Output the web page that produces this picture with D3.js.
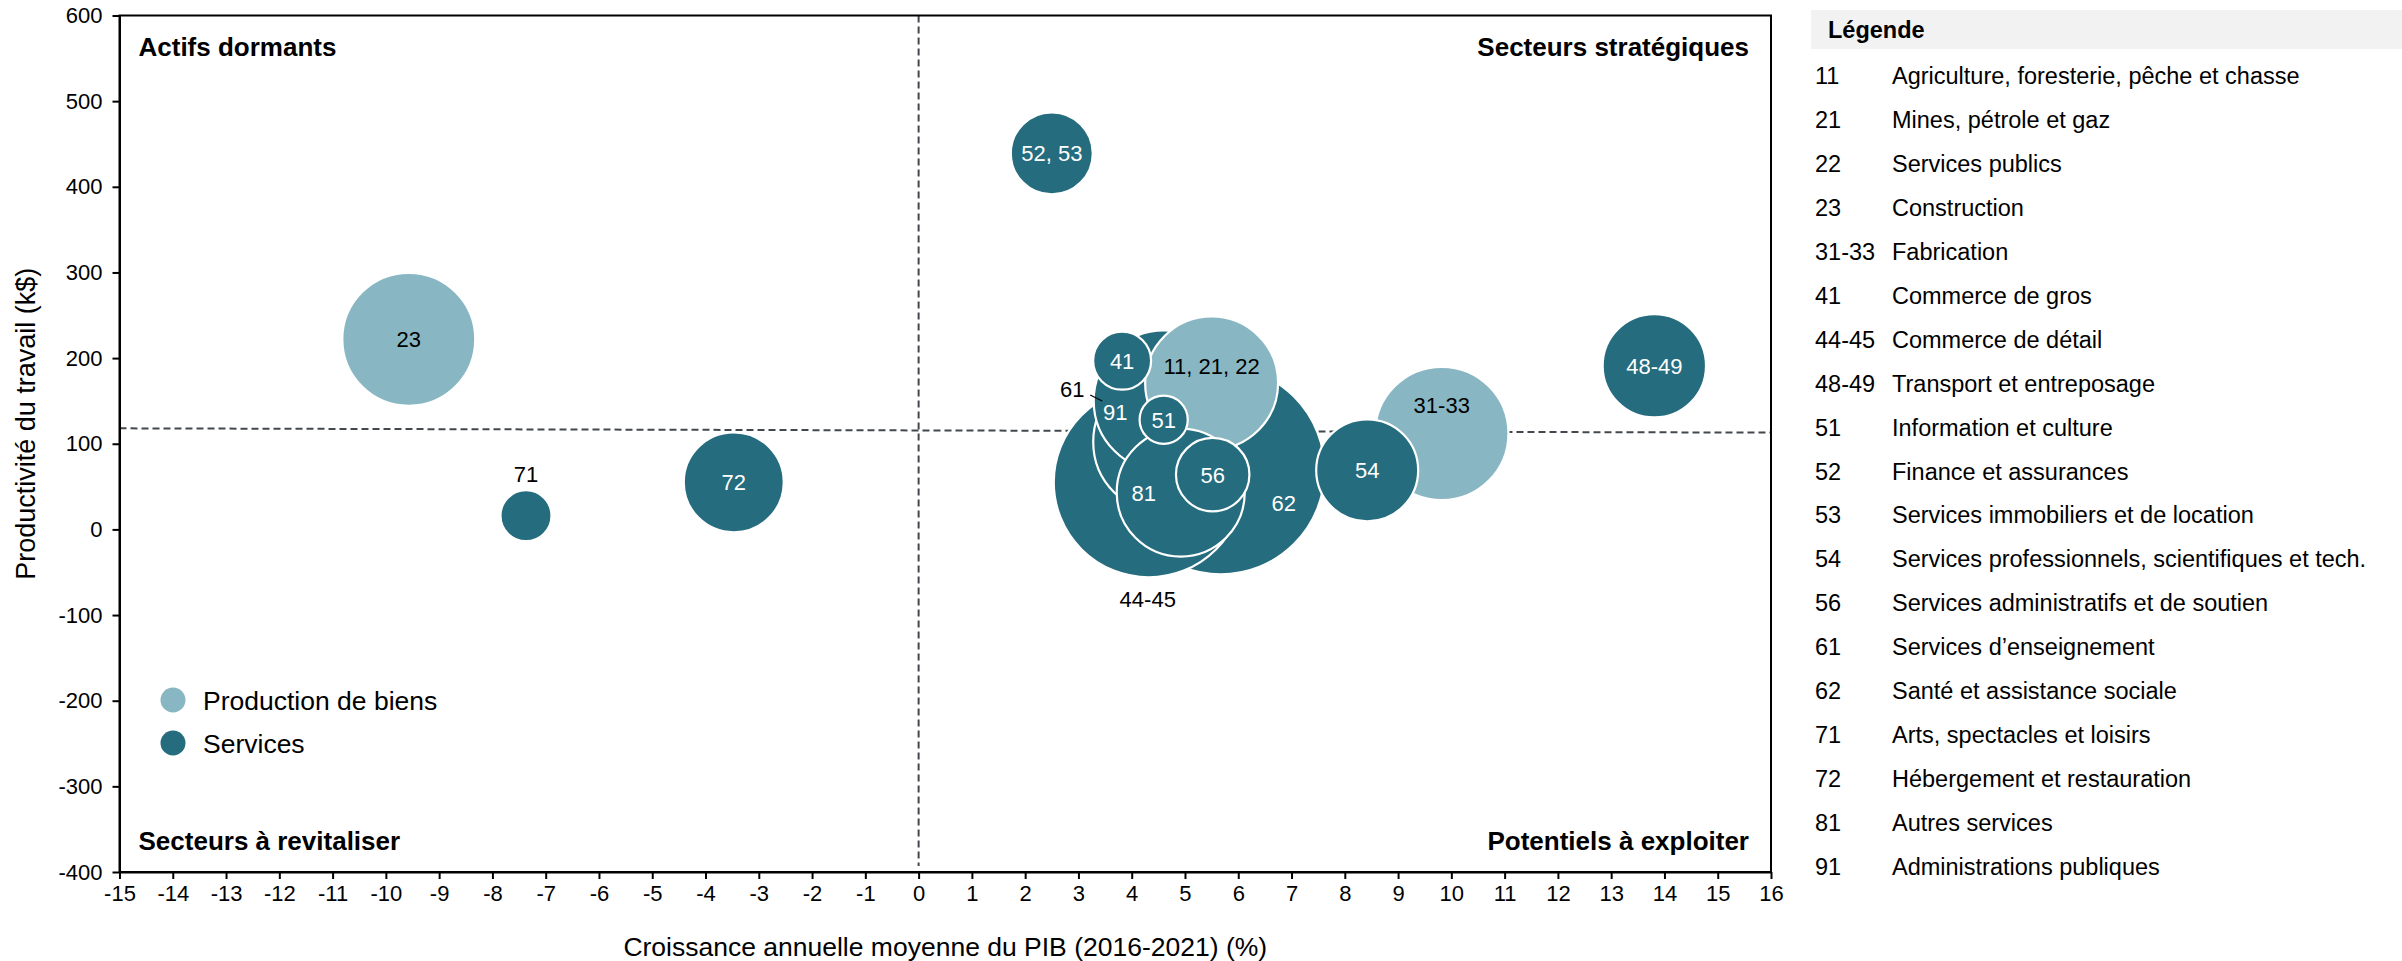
<!DOCTYPE html>
<html lang="fr">
<head>
<meta charset="utf-8">
<script src="https://cdn.jsdelivr.net/npm/d3@7"></script>
<style>
  html, body { margin: 0; padding: 0; background: #ffffff; }
  svg { display: block; font-family: "Liberation Sans", Arial, sans-serif; }
</style>
</head>
<body>
<svg id="chart" width="2402" height="961"></svg>
<script>
// ---------- DATA ----------
const codes = ["11, 21, 22", "23", "31-33", "41", "44-45", "48-49", "51", "52, 53", "54", "56", "61", "62", "71", "72", "81", "91"];
const groupes = ["Production de biens", "Production de biens", "Production de biens", "Services", "Services", "Services", "Services", "Services", "Services", "Services", "Services", "Services", "Services", "Services", "Services", "Services"];
const croissancePIB = [5.50, -9.57, 9.82, 3.82, 4.32, 13.81, 4.60, 2.50, 8.42, 5.52, 4.61, 5.67, -7.37, -3.47, 4.92, 4.61];
const productivite = [171, 222, 112, 197, 55, 191, 128, 439, 69, 64, 102, 69, 16, 55, 43, 150];
const tailleBulle = [44.2, 44.2, 44.5, 8.4, 90.3, 26.7, 5.8, 16.8, 26.0, 13.5, 50.4, 108.2, 6.5, 25.0, 41.0, 49.7];

const moyenneProductivite = [[-15, 118], [16, 113]];

const xTicks = d3.range(-15, 17, 1);
const yTicks = d3.range(-400, 601, 100);

const quadrants = ["Actifs dormants", "Secteurs stratégiques", "Secteurs à revitaliser", "Potentiels à exploiter"];
const groupesLegende = ["Production de biens", "Services"];

const legendeCodes = ["11", "21", "22", "23", "31-33", "41", "44-45", "48-49", "51", "52", "53", "54", "56", "61", "62", "71", "72", "81", "91"];
const legendeNoms = [
  "Agriculture, foresterie, pêche et chasse",
  "Mines, pétrole et gaz",
  "Services publics",
  "Construction",
  "Fabrication",
  "Commerce de gros",
  "Commerce de détail",
  "Transport et entreposage",
  "Information et culture",
  "Finance et assurances",
  "Services immobiliers et de location",
  "Services professionnels, scientifiques et tech.",
  "Services administratifs et de soutien",
  "Services d’enseignement",
  "Santé et assistance sociale",
  "Arts, spectacles et loisirs",
  "Hébergement et restauration",
  "Autres services",
  "Administrations publiques"
];

// ---------- LAYOUT ----------
const svg = d3.select("#chart");
const plot = { left: 119.5, right: 1771, top: 15.5, bottom: 872 };
const FONT = "'Liberation Sans', Arial, sans-serif";
const colors = { "Production de biens": "#88b7c3", "Services": "#256c7e" };

const x = d3.scaleLinear().domain([-15, 16]).range([plot.left, plot.right]);
const y = d3.scaleLinear().domain([-400, 600]).range([plot.bottom, plot.top]);
const r = d3.scaleSqrt().domain([0, d3.max(tailleBulle)]).range([0, 104]);

const data = codes.map((c, i) => ({
  code: c, groupe: groupes[i], x: croissancePIB[i], y: productivite[i], s: tailleBulle[i]
}));

// label placement tweaks (pixels)
const labelOffset = {
  "11, 21, 22": [0, -17], "31-33": [0, -28], "62": [63, 33], "81": [-37, 1],
  "91": [-49, 11], "44-45": [-1, 117], "61": [-92, -53], "71": [0, -42]
};
const outsideLabels = new Set(["44-45", "61", "71"]);

// dashed reference lines
const g = svg.append("g");
g.append("line")
  .attr("x1", x(0)).attr("x2", x(0))
  .attr("y1", y(600)).attr("y2", y(-400) - 6)
  .attr("stroke", "#43484e").attr("stroke-width", 2).attr("stroke-dasharray", "7,4");
g.append("path")
  .datum(moyenneProductivite)
  .attr("d", d3.line().x(d => x(d[0])).y(d => y(d[1])))
  .attr("fill", "none")
  .attr("stroke", "#43484e").attr("stroke-width", 2).attr("stroke-dasharray", "7,4");

// bubbles (largest first)
const sorted = data.slice().sort((a, b) => b.s - a.s);
g.selectAll("circle.bubble")
  .data(sorted)
  .join("circle")
  .attr("class", "bubble")
  .attr("cx", d => x(d.x))
  .attr("cy", d => y(d.y))
  .attr("r", d => r(d.s))
  .attr("fill", d => colors[d.groupe])
  .attr("stroke", "#ffffff")
  .attr("stroke-width", 2.2);

// labels
g.selectAll("text.lbl")
  .data(data)
  .join("text")
  .attr("class", "lbl")
  .attr("x", d => x(d.x) + (labelOffset[d.code] ? labelOffset[d.code][0] : 0))
  .attr("y", d => y(d.y) + (labelOffset[d.code] ? labelOffset[d.code][1] : 0))
  .attr("dy", "0.36em")
  .attr("text-anchor", "middle")
  .attr("font-size", 22)
  .attr("fill", d => (outsideLabels.has(d.code) || d.groupe === "Production de biens") ? "#000000" : "#ffffff")
  .text(d => d.code);

// leader line for 61
const d61 = data.find(d => d.code === "61");
g.append("line")
  .attr("x1", x(d61.x) - 74).attr("y1", y(d61.y) - 47)
  .attr("x2", x(d61.x) - 62).attr("y2", y(d61.y) - 41)
  .attr("stroke", "#000").attr("stroke-width", 1.3);

// frame
svg.append("rect")
  .attr("x", plot.left).attr("y", plot.top)
  .attr("width", plot.right - plot.left).attr("height", plot.bottom - plot.top)
  .attr("fill", "none").attr("stroke", "#000").attr("stroke-width", 2);

// axes
const xAxis = svg.append("g")
  .attr("transform", `translate(0,${plot.bottom})`)
  .call(d3.axisBottom(x).tickValues(xTicks).tickFormat(d3.format("d")).tickSize(7).tickSizeOuter(0));
const yAxis = svg.append("g")
  .attr("transform", `translate(${plot.left},0)`)
  .call(d3.axisLeft(y).tickValues(yTicks).tickFormat(d3.format("d")).tickSize(7).tickSizeOuter(0));
[xAxis, yAxis].forEach(a => {
  a.select(".domain").attr("stroke", "#000").attr("stroke-width", 2);
  a.selectAll(".tick line").attr("stroke", "#000").attr("stroke-width", 2);
  a.selectAll(".tick text").attr("font-family", FONT).attr("font-size", 22).attr("fill", "#000");
});
xAxis.selectAll(".tick text").attr("dy", "0.85em");
yAxis.selectAll(".tick text").attr("x", -17);
xAxis.selectAll(".tick text").text(d => d3.format("d")(d).replace("−", "-"));
yAxis.selectAll(".tick text").text(d => d3.format("d")(d).replace("−", "-"));

// axis titles
svg.append("text")
  .attr("x", (plot.left + plot.right) / 2).attr("y", 956)
  .attr("text-anchor", "middle").attr("font-size", 26.5)
  .text("Croissance annuelle moyenne du PIB (2016-2021) (%)");
svg.append("text")
  .attr("transform", `translate(35,${(plot.top + plot.bottom) / 2 - 20}) rotate(-90)`)
  .attr("text-anchor", "middle").attr("font-size", 27)
  .text("Productivité du travail (k$)");

// quadrant titles
const qpos = [
  { x: plot.left + 19, y: 47, a: "start" },
  { x: plot.right - 22, y: 47, a: "end" },
  { x: plot.left + 19, y: 841, a: "start" },
  { x: plot.right - 22, y: 841, a: "end" }
];
svg.selectAll("text.quad")
  .data(quadrants)
  .join("text")
  .attr("class", "quad")
  .attr("x", (d, i) => qpos[i].x).attr("y", (d, i) => qpos[i].y)
  .attr("dy", "0.36em")
  .attr("text-anchor", (d, i) => qpos[i].a)
  .attr("font-size", 26).attr("font-weight", "bold")
  .text(d => d);

// in-plot legend
const lg = svg.append("g").attr("transform", "translate(173,700)");
lg.selectAll("circle")
  .data(groupesLegende)
  .join("circle")
  .attr("cx", 0).attr("cy", (d, i) => i * 43)
  .attr("r", 12.5)
  .attr("fill", d => colors[d]);
lg.selectAll("text")
  .data(groupesLegende)
  .join("text")
  .attr("x", 30).attr("y", (d, i) => i * 43)
  .attr("dy", "0.36em")
  .attr("font-size", 26.5)
  .text(d => d);

// side legend
const side = svg.append("g");
side.append("rect")
  .attr("x", 1811).attr("y", 10).attr("width", 591).attr("height", 39)
  .attr("fill", "#f2f2f2");
side.append("text")
  .attr("x", 1828).attr("y", 30).attr("dy", "0.36em")
  .attr("font-size", 23.5).attr("font-weight", "bold")
  .text("Légende");
side.selectAll("text.code")
  .data(legendeCodes)
  .join("text")
  .attr("class", "code")
  .attr("x", 1815).attr("y", (d, i) => 76 + i * 43.9)
  .attr("dy", "0.36em").attr("font-size", 23.5)
  .text(d => d);
side.selectAll("text.nom")
  .data(legendeNoms)
  .join("text")
  .attr("class", "nom")
  .attr("x", 1892).attr("y", (d, i) => 76 + i * 43.9)
  .attr("dy", "0.36em").attr("font-size", 23.5)
  .text(d => d);
</script>
</body>
</html>
